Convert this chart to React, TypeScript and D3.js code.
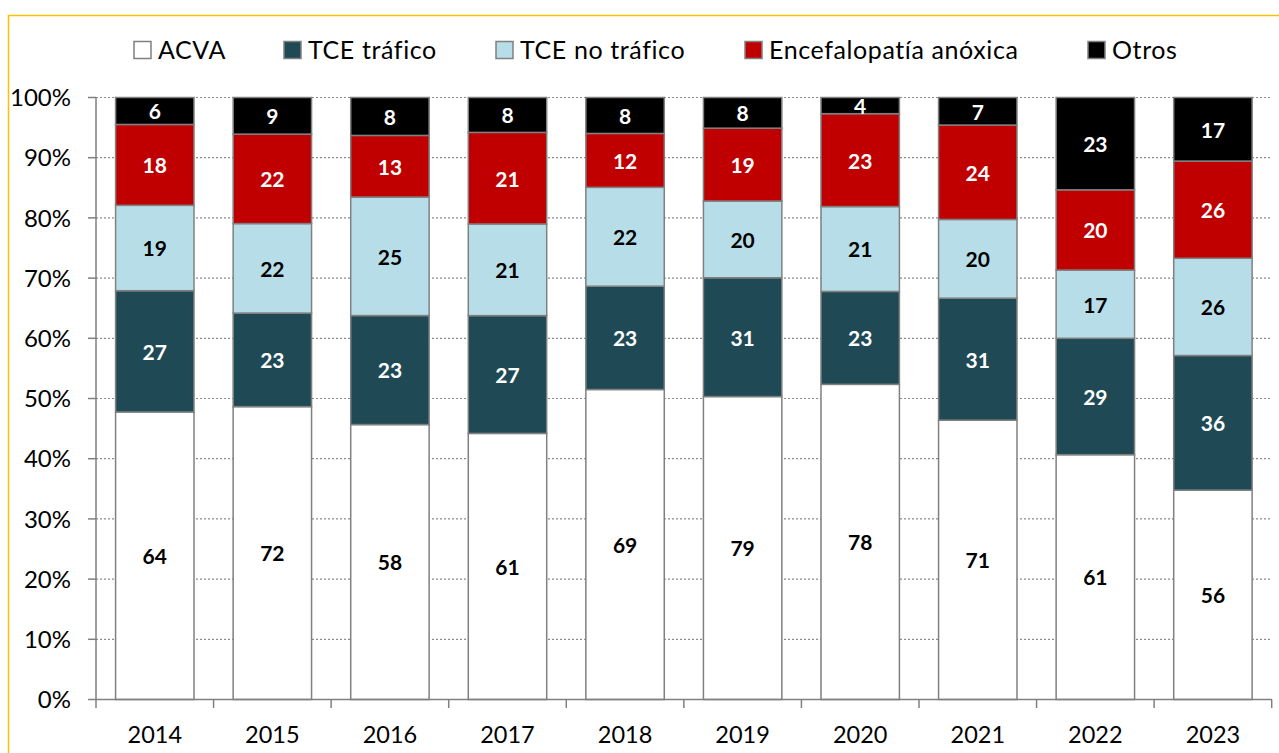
import React from "react";
import * as d3 from "d3";

const years = ["2014", "2015", "2016", "2017", "2018", "2019", "2020", "2021", "2022", "2023"];
const seriesNames = ["ACVA", "TCE tráfico", "TCE no tráfico", "Encefalopatía anóxica", "Otros"];
const acva = [64, 72, 58, 61, 69, 79, 78, 71, 61, 56];
const tceTrafico = [27, 23, 23, 27, 23, 31, 23, 31, 29, 36];
const tceNoTrafico = [19, 22, 25, 21, 22, 20, 21, 20, 17, 26];
const encefalopatia = [18, 22, 13, 21, 12, 19, 23, 24, 20, 26];
const otros = [6, 9, 8, 8, 8, 8, 4, 7, 23, 17];
const yTicks = [0, 0.1, 0.2, 0.3, 0.4, 0.5, 0.6, 0.7, 0.8, 0.9, 1.0];

const fills = ["#FFFFFF", "#1F4A55", "#B7DEE8", "#C00000", "#000000"];
const labelColors = ["#000000", "#FFFFFF", "#000000", "#FFFFFF", "#FFFFFF"];
const legendX = [134, 284, 496, 745, 1088];

const FONT = "Lato, 'Open Sans', sans-serif";

export default function App() {
  const seriesValues = [acva, tceTrafico, tceNoTrafico, encefalopatia, otros];
  const rows = years.map((y, i) => {
    const r: any = { year: y };
    seriesNames.forEach((s, k) => (r[s] = seriesValues[k][i]));
    return r;
  });
  const stacked = d3.stack<any>().keys(seriesNames).offset(d3.stackOffsetExpand)(rows);

  const x = d3.scaleBand().domain(years).range([96, 1271.7]).paddingInner(0.333).paddingOuter(0.1665);
  const xOuter = d3.scaleBand().domain(years).range([96, 1271.7]);
  const y = d3.scaleLinear().domain([0, 1]).range([699.5, 97.5]);

  return (
    <svg width={1279} height={753} style={{ position: "absolute", left: 0, top: 0, fontFamily: FONT }}>
      <rect x={0} y={0} width={1279} height={753} fill="#fff" />
      <rect x={8.5} y={15.5} width={1290} height={760} fill="none" stroke="#FFC000" strokeWidth={1.5} />
      {/* gridlines */}
      {yTicks.slice(1).map((t) => (
        <line key={t} x1={96} x2={1272} y1={y(t)} y2={y(t)} stroke="#8c8c8c" strokeWidth={1.2} strokeDasharray="2,2" />
      ))}
      {/* bars */}
      {stacked.map((layer, k) => (
        <g key={layer.key}>
          {layer.map((d, i) => (
            <rect
              key={i}
              x={x(years[i])!}
              width={x.bandwidth()}
              y={y(d[1])}
              height={y(d[0]) - y(d[1])}
              fill={fills[k]}
              stroke="#808080"
              strokeWidth={1.5}
            />
          ))}
        </g>
      ))}
      {/* data labels */}
      {stacked.map((layer, k) => (
        <g key={"l" + layer.key}>
          {layer.map((d, i) => (
            <text
              key={i}
              x={x(years[i])! + x.bandwidth() / 2}
              y={(y(d[0]) + y(d[1])) / 2}
              dy="0.4em"
              textAnchor="middle"
              fontWeight="bold"
              fontSize={21}
              fill={labelColors[k]}
            >
              {seriesValues[k][i]}
            </text>
          ))}
        </g>
      ))}
      {/* y axis */}
      <line x1={96} x2={96} y1={97} y2={700} stroke="#808080" strokeWidth={1.5} />
      {yTicks.map((t) => (
        <g key={"yt" + t}>
          <line x1={88} x2={96} y1={y(t)} y2={y(t)} stroke="#808080" strokeWidth={1.5} />
          <text x={71} y={y(t)} dy="0.36em" textAnchor="end" fontSize={24} fill="#000">
            {d3.format(".0%")(t)}
          </text>
        </g>
      ))}
      {/* x axis */}
      <line x1={96} x2={1272} y1={699.5} y2={699.5} stroke="#808080" strokeWidth={1.5} />
      {years.map((yr) => (
        <line key={"xt" + yr} x1={xOuter(yr)!} x2={xOuter(yr)!} y1={699.5} y2={708} stroke="#808080" strokeWidth={1.5} />
      ))}
      <line x1={1271.7} x2={1271.7} y1={699.5} y2={708} stroke="#808080" strokeWidth={1.5} />
      {years.map((yr) => (
        <text key={"xl" + yr} x={xOuter(yr)! + xOuter.bandwidth() / 2} y={735} dy="0.36em" textAnchor="middle" fontSize={23.5} fill="#000">
          {yr}
        </text>
      ))}
      {/* legend */}
      {seriesNames.map((s, k) => (
        <g key={"lg" + s}>
          <rect x={legendX[k]} y={41.5} width={17} height={17} fill={fills[k]} stroke="#808080" strokeWidth={1.5} />
          <text x={legendX[k] + 24} y={50} dy="0.36em" fontSize={25} letterSpacing={0.6} fill="#000">
            {s}
          </text>
        </g>
      ))}
    </svg>
  );
}
